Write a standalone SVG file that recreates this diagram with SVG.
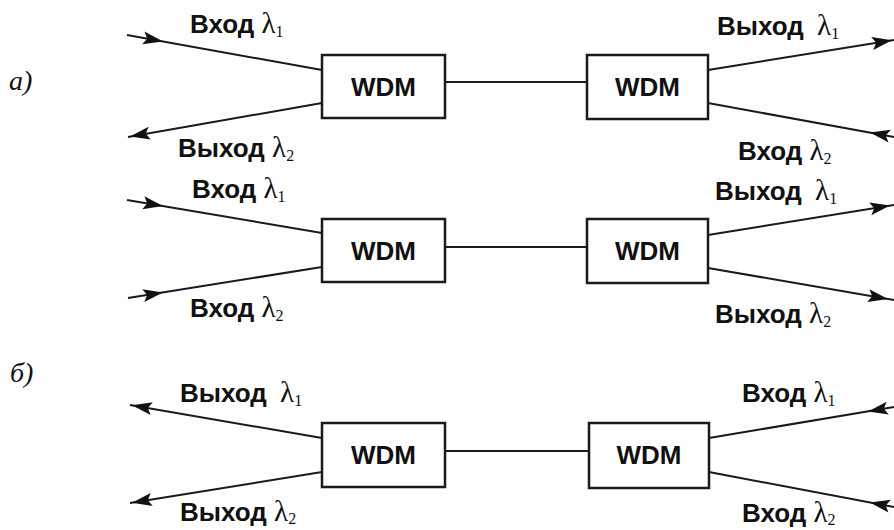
<svg xmlns="http://www.w3.org/2000/svg" xmlns:xlink="http://www.w3.org/1999/xlink" width="894" height="530" viewBox="0 0 894 530">
<style>
.box{fill:#fff;stroke:#1a1a1a;stroke-width:2.5}
.wdm{font-family:"Liberation Sans",Arial,sans-serif;font-weight:bold;font-size:26px;fill:#111;text-anchor:middle}
.ln{stroke:#1a1a1a;stroke-width:2;fill:none}
.lbl{font-family:"Liberation Sans",Arial,sans-serif;font-weight:bold;font-size:26px;fill:#111}
.lam{font-family:"Liberation Serif","Times New Roman",serif;font-weight:normal;font-size:29px}
.sub{font-family:"Liberation Serif","Times New Roman",serif;font-weight:normal;font-size:16px}
.part{font-family:"Liberation Serif","Times New Roman",serif;font-style:italic;font-size:28px;fill:#111}
.ah{fill:#111}
</style>
<defs>
<path id="ah" d="M0,0 L-20,-6.5 L-16,0 L-20,6.5 Z"/>
</defs>
<rect width="894" height="530" fill="#fff"/>

<g id="part-labels">
<text class="part" x="9" y="90">а)</text>
<text class="part" x="10" y="382">б)</text>
</g>

<g id="connectors">
<!-- a1 -->
<line class="ln" x1="127" y1="35" x2="322" y2="70"/>
<line class="ln" x1="322" y1="103" x2="128" y2="137"/>
<line class="ln" x1="445" y1="82" x2="587" y2="82"/>
<line class="ln" x1="708" y1="70" x2="894" y2="40"/>
<line class="ln" x1="708" y1="103" x2="894" y2="137"/>
<use class="ah" xlink:href="#ah" transform="translate(163,41.5) rotate(10.2)"/>
<use class="ah" xlink:href="#ah" transform="translate(130,136.6) rotate(170.1)"/>
<use class="ah" xlink:href="#ah" transform="translate(892,40.3) rotate(-9.2)"/>
<use class="ah" xlink:href="#ah" transform="translate(870,132.6) rotate(190.4)"/>
<!-- a2 -->
<line class="ln" x1="127" y1="200" x2="322" y2="233"/>
<line class="ln" x1="128" y1="298" x2="322" y2="267"/>
<line class="ln" x1="445" y1="247" x2="587" y2="247"/>
<line class="ln" x1="708" y1="235" x2="894" y2="205"/>
<line class="ln" x1="708" y1="268" x2="894" y2="300"/>
<use class="ah" xlink:href="#ah" transform="translate(163,206.1) rotate(9.6)"/>
<use class="ah" xlink:href="#ah" transform="translate(163,292.4) rotate(-9.1)"/>
<use class="ah" xlink:href="#ah" transform="translate(890,205.6) rotate(-9.2)"/>
<use class="ah" xlink:href="#ah" transform="translate(888,299) rotate(9.8)"/>
<!-- b -->
<line class="ln" x1="322" y1="438" x2="130" y2="405"/>
<line class="ln" x1="322" y1="472" x2="130" y2="503"/>
<line class="ln" x1="445" y1="451" x2="589" y2="451"/>
<line class="ln" x1="709" y1="438" x2="894" y2="407"/>
<line class="ln" x1="709" y1="472" x2="894" y2="507"/>
<use class="ah" xlink:href="#ah" transform="translate(132,405.3) rotate(189.75)"/>
<use class="ah" xlink:href="#ah" transform="translate(132,502.7) rotate(170.8)"/>
<use class="ah" xlink:href="#ah" transform="translate(868,411.4) rotate(170.5)"/>
<use class="ah" xlink:href="#ah" transform="translate(870,502.5) rotate(190.7)"/>
</g>

<g id="wdm-a1-left"><rect class="box" x="322" y="55" width="123" height="63"/><text class="wdm" x="383.5" y="96">WDM</text></g>
<g id="wdm-a1-right"><rect class="box" x="587" y="55" width="121" height="64"/><text class="wdm" x="647.5" y="96">WDM</text></g>
<g id="wdm-a2-left"><rect class="box" x="322" y="219" width="123" height="63"/><text class="wdm" x="383.5" y="260">WDM</text></g>
<g id="wdm-a2-right"><rect class="box" x="587" y="219" width="121" height="64"/><text class="wdm" x="647.5" y="260">WDM</text></g>
<g id="wdm-b-left"><rect class="box" x="322" y="423" width="123" height="64"/><text class="wdm" x="383.5" y="464">WDM</text></g>
<g id="wdm-b-right"><rect class="box" x="589" y="423" width="120" height="65"/><text class="wdm" x="649" y="464">WDM</text></g>

<g id="labels">
<text class="lbl" x="190" y="33">Вход <tspan class="lam">λ</tspan><tspan class="sub" dy="4">1</tspan></text>
<text class="lbl" x="178" y="157">Выход <tspan class="lam">λ</tspan><tspan class="sub" dy="4">2</tspan></text>
<text class="lbl" x="717" y="35">Выход <tspan class="lam" dx="6">λ</tspan><tspan class="sub" dy="4">1</tspan></text>
<text class="lbl" x="738" y="160">Вход <tspan class="lam">λ</tspan><tspan class="sub" dy="4">2</tspan></text>

<text class="lbl" x="192" y="198">Вход <tspan class="lam">λ</tspan><tspan class="sub" dy="4">1</tspan></text>
<text class="lbl" x="190" y="317">Вход <tspan class="lam">λ</tspan><tspan class="sub" dy="4">2</tspan></text>
<text class="lbl" x="715" y="200">Выход <tspan class="lam" dx="6">λ</tspan><tspan class="sub" dy="4">1</tspan></text>
<text class="lbl" x="715" y="323">Выход <tspan class="lam">λ</tspan><tspan class="sub" dy="4">2</tspan></text>

<text class="lbl" x="180" y="402">Выход <tspan class="lam" dx="6">λ</tspan><tspan class="sub" dy="4">1</tspan></text>
<text class="lbl" x="180" y="521">Выход <tspan class="lam">λ</tspan><tspan class="sub" dy="3">2</tspan></text>
<text class="lbl" x="742" y="402">Вход <tspan class="lam">λ</tspan><tspan class="sub" dy="4">1</tspan></text>
<text class="lbl" x="742" y="522">Вход <tspan class="lam">λ</tspan><tspan class="sub" dy="3">2</tspan></text>
</g>
</svg>
